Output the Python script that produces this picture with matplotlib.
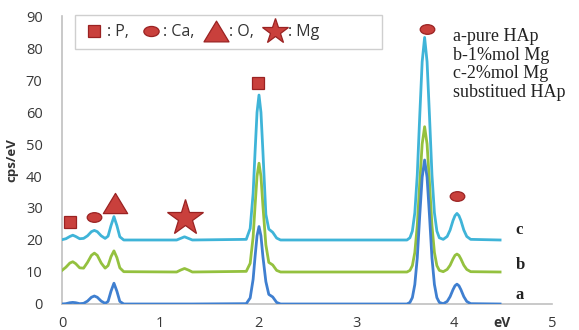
"""EDS spectra of pure and Mg substituted HAp (stacked, offset by 10 cps/eV)."""
import numpy as np
import matplotlib
matplotlib.use("Agg")
import matplotlib.pyplot as plt
from matplotlib.lines import Line2D
from matplotlib.patches import FancyBboxPatch
from matplotlib.path import Path

# shared energy grid (eV)
energy = [0.00, 0.04, 0.08, 0.11, 0.14, 0.18, 0.22, 0.26, 0.30, 0.33, 0.36, 0.40, 0.44, 0.47, 0.50, 0.53, 0.56, 0.59, 0.63,
          1.17, 1.21, 1.25, 1.29, 1.33,
          1.88, 1.92, 1.95, 1.97, 1.99, 2.01, 2.03, 2.05, 2.08, 2.11, 2.15, 2.19, 2.23,
          3.52, 3.55, 3.575, 3.60, 3.625, 3.65, 3.675, 3.70, 3.725, 3.75, 3.775, 3.80, 3.825, 3.85, 3.89,
          3.93, 3.96, 3.99, 4.01, 4.03, 4.05, 4.07, 4.10, 4.13, 4.17, 4.47]

# c - 2%mol Mg (offset 20)
spec_c = [20.1, 20.4, 21.1, 21.5, 21.1, 20.4, 20.5, 21.3, 22.6, 23.0, 22.6, 21.3, 20.5, 21.2, 24.5, 27.3, 24.5, 21.0, 20.0,
          20.0, 20.5, 21.0, 20.5, 20.0,
          20.2, 23.6, 34.5, 47.6, 59.9, 65.3, 59.9, 47.6, 28.0, 23.4, 22.4, 20.6, 20.0,
          20.0, 20.7, 22.8, 28.5, 40.3, 58.6, 75.7, 83.3, 75.7, 58.6, 40.3, 28.5, 22.8, 20.7, 20.2,
          21.1, 23.1, 26.1, 27.6, 28.3, 27.6, 26.1, 23.1, 21.1, 20.2, 20.0]

# b - 1%mol Mg (offset 10)
spec_b = [10.5, 11.5, 12.8, 13.2, 12.6, 11.3, 11.2, 13.0, 15.2, 15.9, 15.2, 12.8, 11.2, 12.0, 14.8, 16.6, 14.5, 11.3, 10.1,
          10.0, 10.6, 11.1, 10.6, 10.0,
          10.2, 12.7, 20.9, 30.7, 39.9, 44.0, 39.9, 30.7, 18.5, 13.0, 12.2, 10.5, 10.0,
          10.0, 10.5, 12.0, 16.1, 24.5, 37.7, 50.0, 55.4, 50.0, 37.7, 24.5, 16.1, 12.0, 10.5, 10.1,
          10.8, 12.1, 14.1, 15.2, 15.6, 15.2, 14.1, 12.1, 10.8, 10.1, 10.0]

# a - pure HAp
spec_a = [0.0, 0.1, 0.4, 0.5, 0.4, 0.1, 0.2, 0.9, 2.1, 2.5, 2.1, 0.9, 0.2, 0.8, 4.0, 6.5, 4.0, 0.8, 0.0,
          0.0, 0.0, 0.0, 0.0, 0.0,
          0.1, 1.9, 7.7, 14.8, 21.3, 24.2, 21.3, 14.8, 7.0, 3.0, 2.2, 0.5, 0.0,
          0.0, 0.5, 2.0, 6.1, 14.4, 27.5, 39.6, 45.0, 39.6, 27.5, 14.4, 6.1, 2.0, 0.5, 0.1,
          0.8, 2.3, 4.5, 5.7, 6.2, 5.7, 4.5, 2.3, 0.8, 0.1, 0.0]

curve_labels = ["c", "b", "a"]
label_y = [23.1, 12.2, 2.8]

# element markers above peaks
mark_elem = ["P", "Ca", "O", "Mg", "P", "Ca", "Ca"]
mark_x = [0.08, 0.33, 0.54, 1.25, 2.00, 3.72, 4.03]
mark_y = [25.6, 27.2, 31.5, 27.0, 69.0, 86.0, 33.8]

legend_elem = ["P", "Ca", "O", "Mg"]
legend_text = [": P,", ": Ca,", ": O,", ": Mg"]
sample_text = ["a-pure HAp", "b-1%mol Mg", "c-2%mol Mg", "substitued HAp"]

# ---- styling
COLORS = {"c": "#3fb4d8", "b": "#94c13f", "a": "#3f7fd0"}
RED, RED_EDGE = "#c9403c", "#9a2222"
ellipse = Path(Path.unit_circle().vertices * [1.0, 0.66], Path.unit_circle().codes)
triangle = Path([(0, 0.83), (-1, -0.83), (1, -0.83), (0, 0.83)], closed=True)
MARKERS = {"P": ("s", 9.0), "Ca": (ellipse, 10.5), "O": (triangle, 17.5), "Mg": ("*", 27)}
LEGEND_SIZE = {"P": 8.0, "Ca": 11.0, "O": 18.0, "Mg": 19}

fig = plt.figure(figsize=(5.79, 3.30), dpi=100)
ax = fig.add_axes([0.1071, 0.0788, 0.8463, 0.8727])

for name, y in zip(curve_labels, [spec_c, spec_b, spec_a]):
    ax.plot(energy, y, color=COLORS[name], lw=2.0, solid_joinstyle="round", zorder=3)

for name, y in zip(curve_labels, label_y):
    ax.text(4.63, y, name, family="Liberation Serif", fontweight="bold", fontsize=12,
            ha="left", va="center", color="#222222")

for el, x, y in zip(mark_elem, mark_x, mark_y):
    m, ms = MARKERS[el]
    ax.plot([x], [y], marker=m, ms=ms, mfc=RED, mec=RED_EDGE, mew=0.9, ls="none", zorder=4)

# legend box
box = FancyBboxPatch((0.0265, 0.885), 0.6265, 0.118, boxstyle="square,pad=0", transform=ax.transAxes,
                     fc="white", ec="#cfcfcf", lw=1.0, clip_on=False, zorder=5)
ax.add_patch(box)
handles = [Line2D([], [], marker=MARKERS[e][0], ms=LEGEND_SIZE[e], mfc=RED, mec=RED_EDGE, mew=0.9, ls="none")
           for e in legend_elem]
leg = ax.legend(handles, legend_text, loc="center left", bbox_to_anchor=(0.017, 0.944), ncol=4,
                frameon=False, handlelength=1.2, handletextpad=0.2, columnspacing=0.75,
                prop={"family": "Open Sans", "size": 11.5})
leg.set_zorder(6)
for t in leg.get_texts():
    t.set_color("#333333")

for i, s in enumerate(sample_text):
    ax.text(0.797, 0.928 - i * 0.064, s, transform=ax.transAxes, family="Liberation Serif",
            fontsize=13, ha="left", va="center", color="#222222")

ax.set_xlim(0, 5)
ax.set_ylim(0, 90)
ax.set_xticks(np.arange(0, 6, 1))
ax.set_yticks(np.arange(0, 100, 10))
ax.tick_params(length=0, labelsize=10.5, labelcolor="#383838")
ax.tick_params(axis="y", pad=14)
ax.tick_params(axis="x", pad=9)
for lbl in ax.get_xticklabels() + ax.get_yticklabels():
    lbl.set_family("Open Sans")
for s in ["top", "right"]:
    ax.spines[s].set_visible(False)
for s in ["left", "bottom"]:
    ax.spines[s].set_color("#c0c0c0")
    ax.spines[s].set_linewidth(1.2)

ax.text(4.49, -5.9, "eV", family="Open Sans", fontweight="bold", fontsize=10, ha="center", va="center",
        color="#333333")
fig.text(0.021, 0.515, "cps/eV", rotation=90, family="Open Sans", fontweight="bold", fontsize=9.5,
         ha="center", va="center", color="#333333")

fig.savefig("out.png", dpi=100)
